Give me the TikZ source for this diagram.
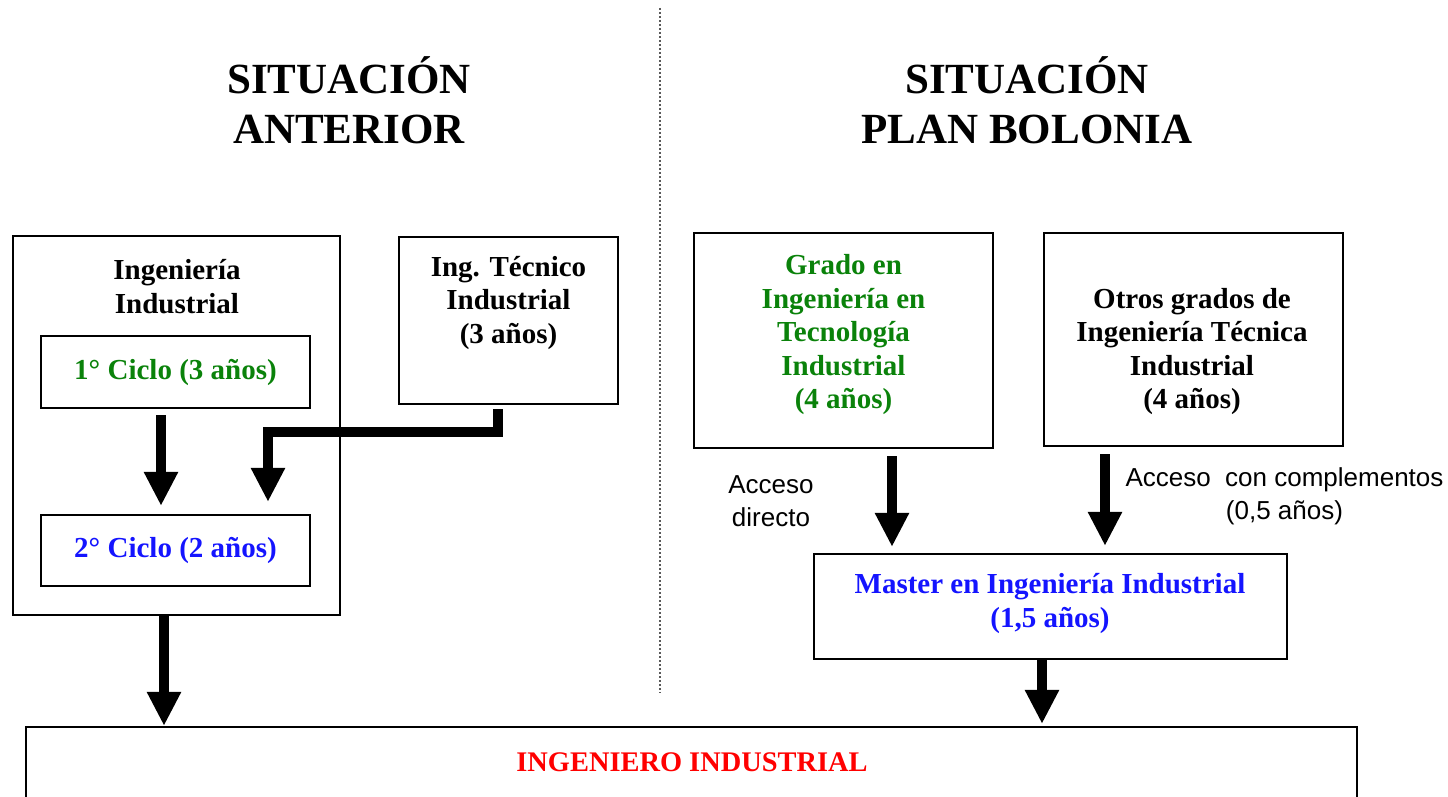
\documentclass[tikz,border=0pt]{standalone}
\usepackage{fontspec}
\setmainfont{Liberation Serif}
\newfontfamily\labelsans{Liberation Sans}
\usetikzlibrary{arrows.meta,calc}
\definecolor{dgreen}{RGB}{10,130,10}
\definecolor{dblue}{RGB}{20,20,255}
\definecolor{dred}{RGB}{255,0,0}
\begin{document}
\begin{tikzpicture}[x=0.5pt,y=-0.5pt,
  box/.style={draw=black,line width=1.1pt,inner sep=0pt},
  txt/.style={font=\fontsize{14.5pt}{16.75pt}\selectfont\bfseries,align=center,inner sep=0pt},
  ttl/.style={font=\fontsize{21.5pt}{25pt}\selectfont\bfseries,align=center,inner sep=0pt},
  note/.style={font=\labelsans\fontsize{13pt}{16.5pt}\selectfont,align=center,inner sep=0pt},
  arr/.style={line width=5pt,-{Triangle[width=16pt,length=17pt]},line join=miter}]
\useasboundingbox (0,0) rectangle (1448,797);
\clip (0,0) rectangle (1448,797);
% divider
\coordinate (dtop) at (660,8);
\coordinate (dbot) at (660,693);
\draw[line width=0.8pt,gray!70!black,dash pattern=on 1pt off 1pt] (dtop) -- (dbot);
% titles
\node[ttl] (t1) at (349,100) {SITUACIÓN\\ANTERIOR};
\node[ttl] (t2) at (1027,100) {SITUACIÓN\\PLAN BOLONIA};
% left side
\node[box,minimum width=163.5pt,minimum height=189.5pt] (big) at (176.5,425.5) {};
\node[txt] (bigt) at (177,286.5) {Ingeniería\\Industrial};
\node[box,minimum width=134.5pt,minimum height=36pt,txt,text=dgreen] (c1) at (175.5,372) {1° Ciclo (3 años)};
\node[box,minimum width=134.5pt,minimum height=35.5pt,txt,text=dblue] (c2) at (175.5,550.5) {2° Ciclo (2 años)};
\node[box,minimum width=109.5pt,minimum height=83.5pt] (tec) at (508.5,320.5) {};
\node[txt] (tect) at (508.5,303) {Ing. Técnico\\Industrial\\(3 años)};
% right side
\node[box,minimum width=149.5pt,minimum height=107.5pt] (grado) at (843.5,340.5) {};
\node[txt,text=dgreen] (gradot) at (843.5,335) {Grado en\\Ingeniería en\\Tecnología\\Industrial\\(4 años)};
\node[box,minimum width=149.5pt,minimum height=106.5pt] (otros) at (1193.5,339.5) {};
\node[txt] (otrost) at (1192,351.5) {Otros grados de\\Ingeniería Técnica\\Industrial\\(4 años)};
\node[box,minimum width=236.5pt,minimum height=52.5pt] (master) at (1050.5,606.5) {};
\node[txt,text=dblue] (mastert) at (1050,603.5) {Master en Ingeniería Industrial\\(1,5 años)};
% bottom
\node[box,minimum width=665.5pt,minimum height=63pt] (bot) at (691.5,790) {};
\node[txt,text=dred,font=\fontsize{14.2pt}{16pt}\selectfont\bfseries] (bott) at (692,762) {INGENIERO INDUSTRIAL};
% notes
\node[note] (n1) at (771,501) {Acceso\\directo};
\node[note] (n2) at (1284.5,496.5) {Acceso~~con complementos\\(0,5 años)};
% arrows
\coordinate (s1) at ($(c1.south)+(-14.5,6)$);
\draw[arr] (s1) -- ($(s1 |- c2.north)+(0,-8)$);
\coordinate (s2) at ($(tec.south)+(-10.5,4)$);
\coordinate (e2) at ($(c2.north)+(92.5,-12)$);
\draw[arr] (s2) |- ($(e2)+(0,-70)$) -- (e2);
\coordinate (s3) at ($(big.south)+(-12.5,0)$);
\draw[arr] (s3) -- (s3 |- bot.north);
\coordinate (s4) at ($(grado.south)+(48.5,7)$);
\draw[arr] (s4) -- ($(s4 |- master.north)+(0,-6)$);
\coordinate (s5) at ($(otros.south)+(-88.5,7)$);
\draw[arr] (s5) -- ($(s5 |- master.north)+(0,-7)$);
\coordinate (s6) at ($(master.south)+(-8.5,0)$);
\draw[arr] (s6) -- ($(s6 |- bot.north)+(0,-2)$);
\end{tikzpicture}
\end{document}
